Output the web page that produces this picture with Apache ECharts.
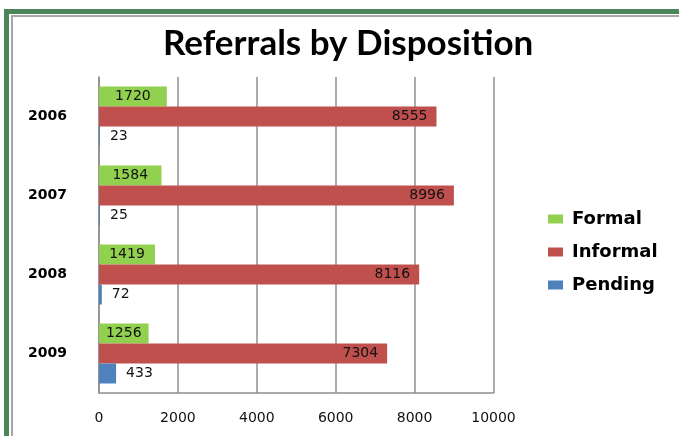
<!DOCTYPE html>
<html>
<head>
<meta charset="utf-8">
<script src="https://cdn.jsdelivr.net/npm/echarts@6/dist/echarts.min.js"></script>
<style>html,body{margin:0;padding:0;background:#fff;}#c{width:679px;height:436px;}</style>
</head>
<body>
<div id="c"></div>
<script>
var years = ['2006', '2007', '2008', '2009'];
var formal = [1720, 1584, 1419, 1256];
var informal = [8555, 8996, 8116, 7304];
var pending = [23, 25, 72, 433];
var xTicks = [0, 2000, 4000, 6000, 8000, 10000];

var chart = echarts.init(document.getElementById('c'), null, {renderer: 'canvas'});
var labelFont = {fontFamily: 'DejaVu Sans', fontSize: 14, color: '#111'};
chart.setOption({
  animation: false,
  backgroundColor: '#fff',
  title: {
    text: 'Referrals by Disposition',
    left: 163,
    top: 26,
    padding: 0,
    textStyle: {fontFamily: 'Lato', fontWeight: 'bold', fontSize: 35, color: '#000'}
  },
  legend: {
    orient: 'vertical',
    left: 548,
    top: 210,
    padding: 0,
    icon: 'rect',
    itemWidth: 15,
    itemHeight: 9,
    itemGap: 15,
    data: ['Formal', 'Informal', 'Pending'],
    textStyle: {fontFamily: 'DejaVu Sans', fontWeight: 'bold', fontSize: 18, color: '#000', padding: [0, 0, 0, 4]}
  },
  grid: {left: 99, right: 185.5, top: 77, bottom: 43, containLabel: false},
  xAxis: {
    type: 'value',
    min: xTicks[0],
    max: xTicks[xTicks.length - 1],
    interval: 2000,
    axisLine: {show: true, lineStyle: {color: '#8f8f8f', width: 1.5}},
    axisTick: {show: false},
    axisLabel: {margin: 18, fontFamily: 'DejaVu Sans', fontSize: 14, color: '#111',
      formatter: function (v) { return String(v); }},
    splitLine: {show: true, lineStyle: {color: '#8f8f8f', width: 1.5}}
  },
  yAxis: {
    type: 'category',
    data: years,
    inverse: true,
    axisLine: {show: true, lineStyle: {color: '#8f8f8f', width: 1.5}},
    axisTick: {show: false},
    axisLabel: {margin: 32, fontFamily: 'DejaVu Sans', fontWeight: 'bold', fontSize: 14, color: '#000'}
  },
  series: [
    {name: 'Formal', type: 'bar', data: formal, barWidth: 20, barGap: '0%',
     itemStyle: {color: '#92D050'},
     label: Object.assign({show: true, position: 'inside'}, labelFont)},
    {name: 'Informal', type: 'bar', data: informal, barWidth: 20, barGap: '0%',
     itemStyle: {color: '#C0504D'},
     label: Object.assign({show: true, position: 'insideRight', distance: 9}, labelFont)},
    {name: 'Pending', type: 'bar', data: pending, barWidth: 20, barGap: '0%',
     itemStyle: {color: '#4F81BD'},
     label: Object.assign({show: true, position: 'right', distance: 10}, labelFont)}
  ],
  graphic: [
    {type: 'rect', silent: true, z: 100,
     shape: {x: 6.5, y: 11.5, width: 720, height: 500},
     style: {fill: 'none', stroke: '#4A8659', lineWidth: 5}},
    {type: 'rect', silent: true, z: 100,
     shape: {x: 12, y: 16, width: 720, height: 500},
     style: {fill: 'none', stroke: '#A6A6A6', lineWidth: 2}}
  ]
});
</script>
</body>
</html>
